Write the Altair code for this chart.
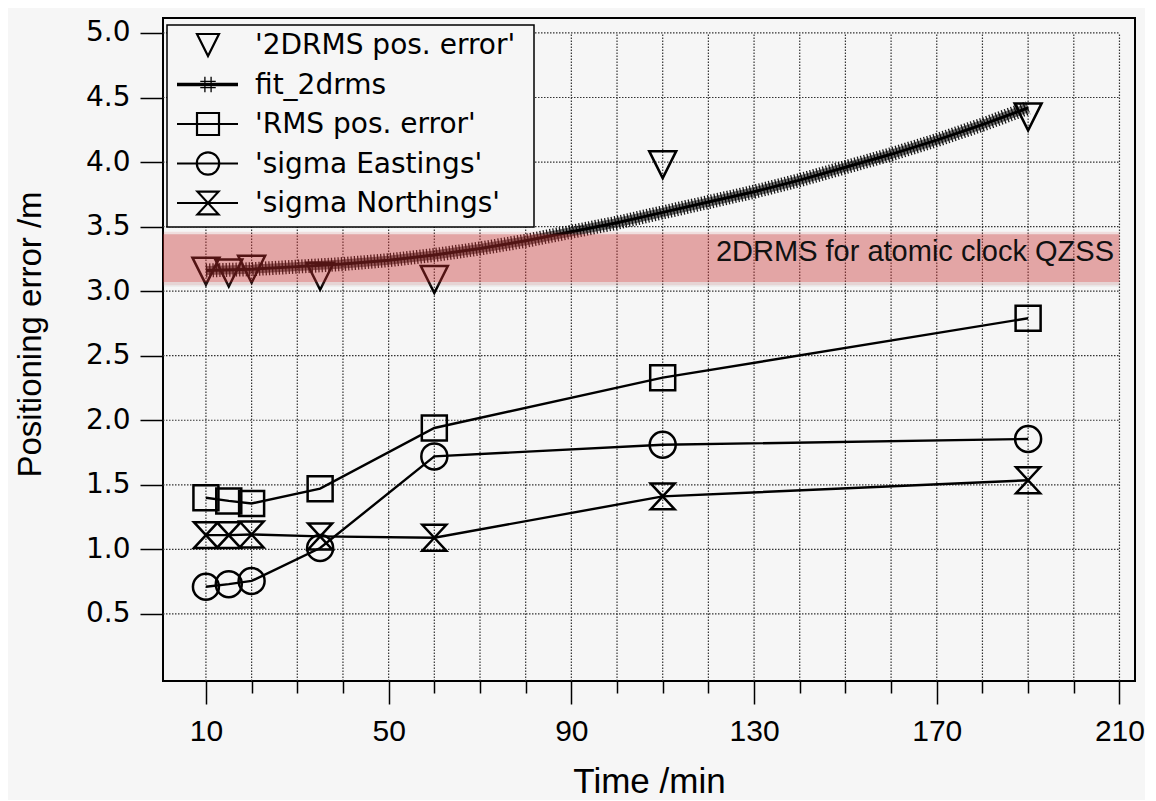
import altair as alt
import pandas as pd

# ---------------- data ----------------
time_min = [10, 15, 20, 35, 60, 110, 190]
drms2_pos_error = [3.155, 3.14, 3.17, 3.115, 3.09, 3.98, 4.35]
rms_pos_error = [1.40, 1.375, 1.355, 1.47, 1.94, 2.33, 2.79]
sigma_eastings = [0.71, 0.73, 0.755, 1.01, 1.72, 1.81, 1.855]
sigma_northings = [1.11, 1.11, 1.115, 1.10, 1.09, 1.41, 1.535]

fit_time = [10, 20, 30, 40, 50, 60, 70, 80, 90, 100, 110, 120, 130, 140, 150, 160, 170, 180, 190]
fit_2drms = [3.16, 3.17, 3.19, 3.21, 3.24, 3.28, 3.33, 3.39, 3.46, 3.53, 3.61, 3.69, 3.77,
             3.86, 3.96, 4.06, 4.17, 4.29, 4.42]

x_grid_ticks = [10, 20, 30, 40, 50, 60, 70, 80, 90, 100, 110, 120, 130, 140, 150, 160,
                170, 180, 190, 200, 210]
y_ticks = [0.5, 1.0, 1.5, 2.0, 2.5, 3.0, 3.5, 4.0, 4.5, 5.0]

band_low = [3.07]
band_high = [3.44]
band_label = ["2DRMS for atomic clock QZSS"]
band_label_x = [208.8]
band_label_y = [3.23]

legend_labels = ["\u00a0'2DRMS pos. error'", "fit_2drms", "'RMS pos. error'",
                 "'sigma Eastings'", "'sigma Northings'"]

X_MIN, X_MAX = 0.6, 213.4
Y_MIN, Y_MAX = -0.02, 5.116
BG = "#f6f6f6"

TRI = "M-1,-1L1,-1L0,1Z"
HOUR = "M-1,-1.08L1,-1.08L-1,1.08L1,1.08Z"
HASH = "M-1,-0.4L1,-0.4M-1,0.4L1,0.4M-0.4,-1L-0.4,1M0.4,-1L0.4,1"

xs = alt.Scale(domain=[X_MIN, X_MAX], nice=False, zero=False)
ys = alt.Scale(domain=[Y_MIN, Y_MAX], nice=False, zero=False)

x_axis = alt.Axis(
    values=x_grid_ticks, grid=False, domain=False,
    tickColor="black", tickWidth=1.5,
    tickSize={"condition": {"test": "datum.value % 40 === 10", "value": 23}, "value": 12},
    labelExpr="datum.value % 40 === 10 ? datum.label : ''",
    labelOverlap=False, labelFlush=False,
    labelFont="Liberation Sans", labelFontSize=30, labelColor="black", labelPadding=12,
    title="Time /min", titleFont="Liberation Sans", titleFontSize=35,
    titleFontWeight="normal", titleColor="black", titlePadding=18,
)
y_axis = alt.Axis(
    values=y_ticks, grid=False, domain=False, format=".1f",
    tickColor="black", tickWidth=1.5, tickSize=23,
    labelFont="DejaVu Sans", labelFontSize=28, labelColor="black", labelPadding=10,
    title="Positioning error /m", titleFont="Liberation Sans", titleFontSize=33,
    titleFontWeight="normal", titleColor="black", titleX=-116, titleY=316,
)


def X(f):
    return alt.X(f"{f}:Q", scale=xs, axis=x_axis)


def Y(f):
    return alt.Y(f"{f}:Q", scale=ys, axis=y_axis)


# ---------------- grid ----------------
vgrid = pd.DataFrame({"x": x_grid_ticks, "y": Y_MIN, "y2": max(y_ticks)})
hgrid = pd.DataFrame({"y": y_ticks, "x": X_MIN, "x2": max(x_grid_ticks)})

grid_v = alt.Chart(vgrid).mark_rule(color="#333", strokeWidth=1.2, strokeDash=[1.5, 1.5]).encode(
    x=X("x"), y=Y("y"), y2="y2:Q")
grid_h = alt.Chart(hgrid).mark_rule(color="#333", strokeWidth=1.2, strokeDash=[1.5, 1.5]).encode(
    x=X("x"), x2="x2:Q", y=Y("y"))

# ---------------- series ----------------
series = pd.DataFrame({
    "t": time_min,
    "drms": drms2_pos_error,
    "rms": rms_pos_error,
    "east": sigma_eastings,
    "north": sigma_northings,
})
fit = pd.DataFrame({"t": fit_time, "v": fit_2drms})

layers = [grid_v, grid_h]

# fit curve, drawn as a hatched thick band of "#" like markers
base_fit = alt.Chart(fit)
layers.append(base_fit.mark_line(color="black", strokeWidth=9, opacity=0.55).encode(x=X("t"), y=Y("v")))
layers.append(base_fit.mark_line(color="black", strokeWidth=14, strokeDash=[1.3, 2.0], opacity=0.9).encode(x=X("t"), y=Y("v")))
layers.append(base_fit.mark_line(color="black", strokeWidth=3).encode(x=X("t"), y=Y("v")))

for col, shape, size in [("rms", "square", 625), ("east", "circle", 676), ("north", HOUR, 576)]:
    b = alt.Chart(series)
    layers.append(b.mark_line(color="black", strokeWidth=2.4).encode(x=X("t"), y=Y(col)))
    layers.append(b.mark_point(shape=shape, size=size, filled=False, color="black",
                               strokeWidth=2.5, opacity=1).encode(x=X("t"), y=Y(col)))

layers.append(alt.Chart(series).mark_point(shape=TRI, size=729, filled=False, color="black",
                                           strokeWidth=2.5, opacity=1).encode(x=X("t"), y=Y("drms")))

# ---------------- translucent red band + its label ----------------
band = pd.DataFrame({"x": [X_MIN], "x2": [max(x_grid_ticks)], "lo": band_low, "hi": band_high})
band_b = alt.Chart(band).transform_calculate(lo2="datum.lo - 0.025", hi2="datum.hi + 0.02",
                                             sh="datum.lo - 0.035")
layers.append(band_b.mark_rect(color="#888", opacity=0.10).encode(
    x=X("x"), x2="x2:Q", y=Y("sh"), y2="lo:Q"))
layers.append(band_b.mark_rect(color="#c83232", opacity=0.12).encode(
    x=X("x"), x2="x2:Q", y=Y("lo2"), y2="hi2:Q"))
layers.append(band_b.mark_rect(color="#c83232", opacity=0.33).encode(
    x=X("x"), x2="x2:Q", y=Y("lo"), y2="hi:Q"))

lab = pd.DataFrame({"x": band_label_x, "y": band_label_y, "text": band_label})
layers.append(alt.Chart(lab).mark_text(align="right", baseline="alphabetic", font="Liberation Sans",
                                       fontSize=29, color="#111").encode(
    x=X("x"), y=Y("y"), text="text:N"))

# ---------------- hand-built legend (pixel layout) ----------------
one = pd.DataFrame({"k": [0]})
layers.append(alt.Chart(one).mark_rect(fill=BG, stroke="black", strokeWidth=1.5).encode(
    x=alt.value(4), x2=alt.value(371), y=alt.value(7), y2=alt.value(209)))

leg_shapes = [(TRI, 484, 2.2), (HASH, 240, 1.3), ("square", 484, 2.2), ("circle", 500, 2.2), (HOUR, 441, 2.2)]
for i, label in enumerate(legend_labels):
    py = 27 + 39.5 * i
    d = pd.DataFrame({"label": [label]})
    if i > 0:
        layers.append(alt.Chart(d).mark_rule(color="black", strokeWidth=3.5 if i == 1 else 2.2).encode(
            x=alt.value(14), x2=alt.value(75), y=alt.value(py)))
    shp, sz, sw = leg_shapes[i]
    layers.append(alt.Chart(d).mark_point(shape=shp, size=sz, filled=False, color="black",
                                          strokeWidth=sw, opacity=1).encode(
        x=alt.value(45), y=alt.value(py)))
    layers.append(alt.Chart(d).mark_text(align="left", baseline="middle", font="DejaVu Sans",
                                         fontSize=28, color="black").encode(
        x=alt.value(92), y=alt.value(py + 1), text="label:N"))

chart = alt.layer(*layers).properties(
    width=972, height=663, background=BG,
    padding={"left": 155, "top": 10, "right": 10, "bottom": 119},
    autosize=alt.AutoSizeParams(type="none"),
).configure_view(stroke="black", strokeWidth=2)

chart.save("out.html", embed_options={"renderer": "svg", "actions": False})
